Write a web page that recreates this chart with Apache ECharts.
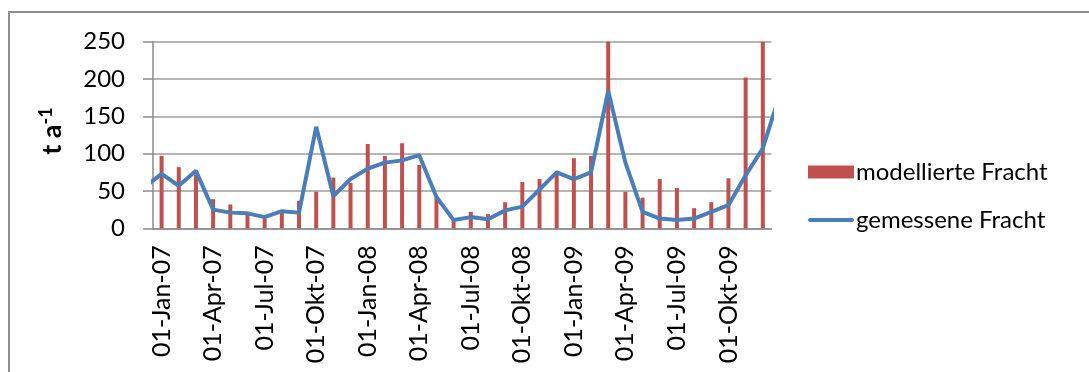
<!DOCTYPE html>
<html>
<head>
<meta charset="utf-8">
<script src="https://cdn.jsdelivr.net/npm/echarts@6/dist/echarts.min.js"></script>
<style>
html,body{margin:0;padding:0;background:#fff;}
#c{width:1089px;height:372px;}
</style>
</head>
<body>
<div id="c"></div>
<script>
var months = ["01-Jan-07","01-Feb-07","01-Mär-07","01-Apr-07","01-Mai-07","01-Jun-07","01-Jul-07","01-Aug-07","01-Sep-07","01-Okt-07","01-Nov-07","01-Dez-07",
              "01-Jan-08","01-Feb-08","01-Mär-08","01-Apr-08","01-Mai-08","01-Jun-08","01-Jul-08","01-Aug-08","01-Sep-08","01-Okt-08","01-Nov-08","01-Dez-08",
              "01-Jan-09","01-Feb-09","01-Mär-09","01-Apr-09","01-Mai-09","01-Jun-09","01-Jul-09","01-Aug-09","01-Sep-09","01-Okt-09","01-Nov-09","01-Dez-09"];
var modelled = [97,82,72,39,32,22,13,21,37,49,68,61,
                113,97,114,85,41,11,22,19,35,62,66,74,
                94,97,250,49,41,66,54,27,35,67,202,250];
var measured = [73,57,77,25,21,20,15,23,21,136,43,66,
                80,88,91,98,42,11,15,12,24,29,52,75,
                66,75,184,88,22,13,11,13,22,31,71,107];
var measuredBefore = 55;   // Dec-06 (line continues beyond left edge)
var measuredAfter = 180;   // Jan-10 (line continues beyond right edge)
var yTicks = [0,50,100,150,200,250];
var seriesNames = ["modellierte Fracht","gemessene Fracht"];

var lineData = [[-0.5, measuredBefore]];
measured.forEach(function(v,i){ lineData.push([i+0.5, v]); });
lineData.push([months.length+0.5, measuredAfter]);

var chart = echarts.init(document.getElementById('c'));
var font = 'Lato, "Open Sans", sans-serif';
chart.setOption({
  animation:false,
  backgroundColor:'#fff',
  textStyle:{fontFamily:font},
  graphic:[{type:'rect', shape:{x:9,y:12,width:1200,height:500},
            style:{fill:'none', stroke:'#8e8e8e', lineWidth:2}, silent:true}],
  grid:{left:153, top:41.7, width:618.4, height:186.6, containLabel:false},
  legend:{
    orient:'vertical', left:808, top:158, itemWidth:46, itemHeight:13, itemGap:20,
    padding:0, symbolKeepAspect:true,
    textStyle:{fontSize:24, color:'#000', lineHeight:28, fontFamily:font, padding:[0,0,0,-3]},
    data:[{name:seriesNames[0], icon:'rect'},
          {name:seriesNames[1], icon:'path://M2,0L44,0Q46,0,46,2Q46,4,44,4L2,4Q0,4,0,2Q0,0,2,0Z'}]
  },
  xAxis:[{
    type:'category', data:months, boundaryGap:true,
    axisLine:{lineStyle:{color:'#8a8a8a', width:1.5}},
    axisTick:{show:false},
    axisLabel:{interval:2, rotate:90, margin:17, fontSize:25, color:'#000', fontFamily:font}
  },{
    type:'value', min:0, max:months.length, show:false
  }],
  yAxis:{
    type:'value', min:yTicks[0], max:yTicks[yTicks.length-1], interval:50,
    name:'t a{sup|-1}', nameLocation:'middle', nameGap:86, nameRotate:90,
    nameTextStyle:{fontSize:27, fontWeight:'bold', color:'#000', fontFamily:font, padding:[0,0,0,8],
      rich:{sup:{fontSize:18, fontWeight:'bold', verticalAlign:'top', padding:[0,0,12,0], fontFamily:font, color:'#000'}}},
    axisLine:{show:true, lineStyle:{color:'#8a8a8a', width:1.5}},
    axisTick:{show:true, length:10, lineStyle:{color:'#8a8a8a', width:1.5}},
    axisLabel:{fontSize:24, color:'#000', margin:28, fontFamily:font},
    splitLine:{lineStyle:{color:'#9d9d9d', width:1.5}}
  },
  series:[{
    name:seriesNames[0], type:'bar', xAxisIndex:0, data:modelled, barWidth:4,
    itemStyle:{color:'#c0504d'}
  },{
    name:seriesNames[1], type:'line', xAxisIndex:1, data:lineData, symbol:'none', clip:true,
    lineStyle:{color:'#4a7ebb', width:4}, itemStyle:{color:'#4a7ebb'}
  }]
});
</script>
</body>
</html>
